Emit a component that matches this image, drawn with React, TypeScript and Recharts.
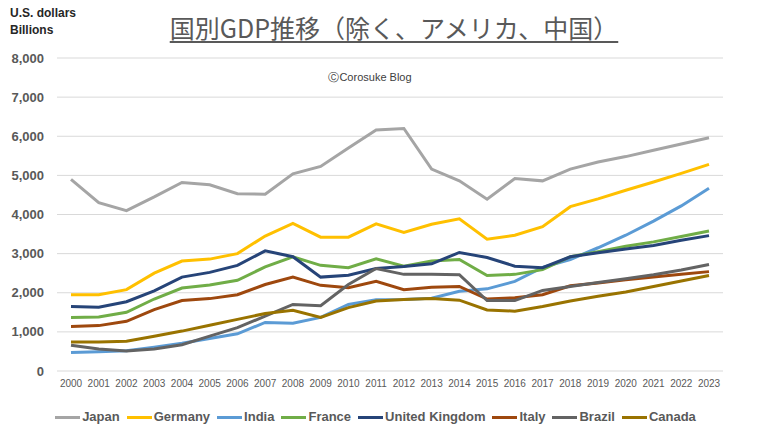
import React from 'react';
import { LineChart, Line, XAxis, YAxis, CartesianGrid, Legend } from 'recharts';

const years = [
  '2000', '2001', '2002', '2003', '2004', '2005', '2006', '2007', '2008', '2009', '2010', '2011',
  '2012', '2013', '2014', '2015', '2016', '2017', '2018', '2019', '2020', '2021', '2022', '2023',
];

const japan = [4900, 4300, 4100, 4450, 4820, 4760, 4530, 4520, 5040, 5230, 5700, 6160, 6200, 5160, 4860, 4390, 4920, 4860, 5160, 5340, 5480, 5640, 5800, 5960];
const germany = [1950, 1950, 2080, 2500, 2810, 2860, 3000, 3450, 3770, 3420, 3420, 3760, 3540, 3750, 3890, 3370, 3470, 3690, 4200, 4400, 4620, 4830, 5050, 5280];
const india = [470, 490, 520, 610, 710, 830, 950, 1240, 1220, 1370, 1700, 1820, 1830, 1860, 2040, 2100, 2290, 2650, 2850, 3150, 3470, 3830, 4220, 4670];
const france = [1370, 1380, 1500, 1840, 2120, 2200, 2320, 2660, 2920, 2700, 2640, 2870, 2680, 2810, 2850, 2440, 2470, 2590, 2920, 3050, 3190, 3300, 3440, 3580];
const unitedKingdom = [1650, 1630, 1770, 2050, 2400, 2520, 2700, 3070, 2920, 2400, 2450, 2620, 2670, 2740, 3030, 2900, 2680, 2640, 2920, 3020, 3120, 3210, 3340, 3460];
const italy = [1140, 1160, 1270, 1570, 1800, 1850, 1950, 2210, 2400, 2190, 2130, 2290, 2080, 2140, 2160, 1840, 1870, 1950, 2180, 2250, 2330, 2400, 2470, 2540];
const brazil = [660, 560, 510, 560, 670, 890, 1110, 1400, 1700, 1670, 2210, 2620, 2470, 2470, 2460, 1800, 1800, 2060, 2160, 2260, 2360, 2460, 2580, 2720];
const canada = [740, 740, 760, 890, 1020, 1170, 1320, 1470, 1550, 1370, 1620, 1790, 1830, 1850, 1810, 1560, 1530, 1650, 1790, 1910, 2020, 2160, 2300, 2440];

const seriesNames = ['Japan', 'Germany', 'India', 'France', 'United Kingdom', 'Italy', 'Brazil', 'Canada'];
const seriesValues = [japan, germany, india, france, unitedKingdom, italy, brazil, canada];
const seriesColors = ['#A5A5A5', '#FFC000', '#5B9BD5', '#70AD47', '#264478', '#9E480E', '#636363', '#997300'];

const yTicks = [0, 1000, 2000, 3000, 4000, 5000, 6000, 7000, 8000];

const titleText = '国別GDP推移（除く、アメリカ、中国）';
const unitLine1 = 'U.S. dollars';
const unitLine2 = 'Billions';
const creditText = 'ⒸCorosuke Blog';

const data = years.map((year, i) => {
  const row: Record<string, any> = { year };
  seriesNames.forEach((name, s) => {
    row[name] = seriesValues[s][i];
  });
  return row;
});

const SANS = "'Liberation Sans', Arial, sans-serif";
const TEXT = '#595959';

const renderLegend = () => (
  <div
    style={{
      display: 'flex',
      justifyContent: 'center',
      alignItems: 'center',
      fontFamily: SANS,
      fontWeight: 'bold',
      fontSize: 13,
      color: TEXT,
      lineHeight: '20px',
      paddingRight: 10,
    }}
  >
    {seriesNames.map((name, s) => (
      <span key={name} style={{ display: 'inline-flex', alignItems: 'center', marginRight: 7 }}>
        <span
          style={{
            display: 'inline-block',
            width: 25,
            height: 3,
            background: seriesColors[s],
            marginRight: 2,
          }}
        />
        {name}
      </span>
    ))}
  </div>
);

export default function App() {
  return (
    <div style={{ position: 'absolute', left: 0, top: 0, width: 768, height: 440, background: '#fff' }}>
      <LineChart
        width={768}
        height={440}
        data={data}
        margin={{ top: 58, right: 45, left: 0, bottom: 39 }}
      >
        <CartesianGrid vertical={false} stroke="#D9D9D9" strokeWidth={1} />
        <XAxis
          dataKey="year"
          axisLine={false}
          tickLine={false}
          interval={0}
          height={30}
          tickMargin={3}
          padding={{ left: 14, right: 14 }}
          tick={{ fill: TEXT, fontSize: 10, fontFamily: SANS }}
        />
        <YAxis
          domain={[0, 8000]}
          ticks={yTicks}
          width={57}
          axisLine={false}
          tickLine={false}
          tickMargin={7}
          tickFormatter={(v: number) => v.toLocaleString('en-US')}
          tick={{ fill: TEXT, fontSize: 13, fontFamily: SANS, fontWeight: 'bold' }}
        />
        <Legend
          verticalAlign="middle"
          layout="horizontal"
          content={renderLegend}
          wrapperStyle={{ top: 407, left: 0, width: 768, height: 20 }}
        />
        {seriesNames.map((name, s) => (
          <Line
            key={name}
            type="linear"
            dataKey={name}
            stroke={seriesColors[s]}
            strokeWidth={3}
            dot={false}
            activeDot={false}
            isAnimationActive={false}
          />
        ))}
      </LineChart>
      <div
        style={{
          position: 'absolute',
          left: 10,
          top: 5,
          fontFamily: SANS,
          fontWeight: 'bold',
          fontSize: 12,
          color: '#262626',
          lineHeight: '17px',
        }}
      >
        <div>{unitLine1}</div>
        <div>{unitLine2}</div>
      </div>
      <div
        style={{
          position: 'absolute',
          left: 0,
          top: 11,
          width: 788,
          textAlign: 'center',
          fontFamily: "'Noto Sans CJK JP', sans-serif",
          fontSize: 25,
          lineHeight: '32px',
          color: TEXT,
          textDecoration: 'underline',
          textDecorationThickness: '2px',
          textUnderlineOffset: '3px',
        }}
      >
        {titleText}
      </div>
      <div
        style={{
          position: 'absolute',
          left: 270,
          top: 69,
          width: 200,
          textAlign: 'center',
          fontFamily: SANS,
          fontSize: 11,
          color: '#404040',
          lineHeight: '16px',
        }}
      >
        {creditText}
      </div>
    </div>
  );
}
